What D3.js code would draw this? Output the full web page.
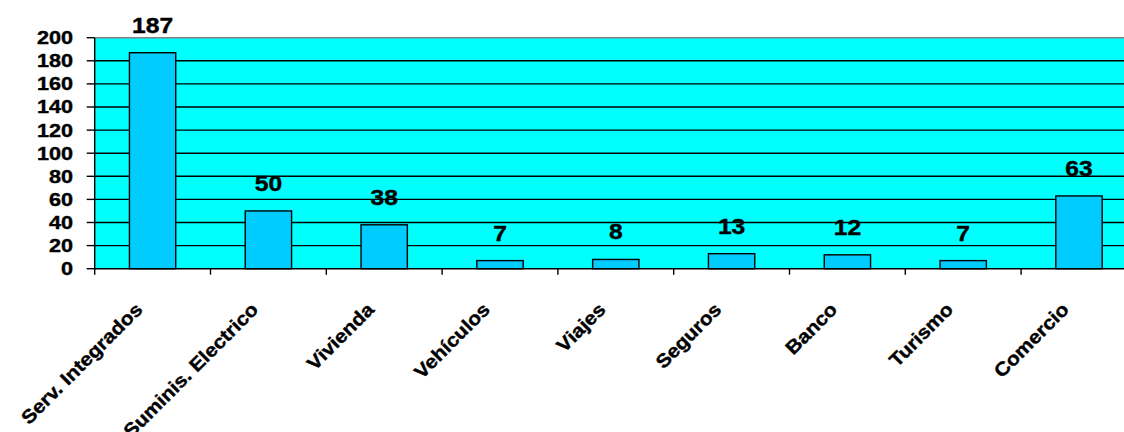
<!DOCTYPE html>
<html>
<head>
<meta charset="utf-8">
<script src="https://cdn.jsdelivr.net/npm/d3@7"></script>
<style>
  html, body { margin: 0; padding: 0; background: #fff; overflow: hidden; }
  svg { display: block; }
  text { font-family: "Liberation Sans", Arial, sans-serif; font-weight: bold; fill: #000; stroke: #000; stroke-width: 0.4px; }
</style>
</head>
<body>
<svg id="chart" width="1124" height="432"></svg>
<script>
// Complaints by sector
const categories = ["Serv. Integrados", "Suminis. Electrico", "Vivienda", "Vehículos", "Viajes", "Seguros", "Banco", "Turismo", "Comercio"];
const values = [187, 50, 38, 7, 8, 13, 12, 7, 63];
const yTicks = [0, 20, 40, 60, 80, 100, 120, 140, 160, 180, 200];

const svg = d3.select("#chart");
const plotLeft = 94.7, bandW = 115.8;
const plotRight = plotLeft + bandW * categories.length;
const plotTop = 37.7, plotBottom = 268.7;

const x = d3.scaleBand().domain(categories).range([plotLeft, plotRight]).padding(0);
const y = d3.scaleLinear().domain([0, 200]).range([plotBottom, plotTop]);

// plot area
svg.append("rect")
  .attr("x", plotLeft).attr("y", plotTop)
  .attr("width", plotRight - plotLeft).attr("height", plotBottom - plotTop)
  .attr("fill", "#00FFFF");

// horizontal gridlines
svg.append("g").selectAll("line")
  .data(yTicks.filter(t => t > 0))
  .join("line")
  .attr("x1", plotLeft).attr("x2", plotRight)
  .attr("y1", d => y(d)).attr("y2", d => y(d))
  .attr("stroke", d => d === 200 ? "#808080" : "#000")
  .attr("stroke-width", 1.4);

// bars
const barW = x.bandwidth() * 0.4;
svg.append("g").selectAll("rect")
  .data(values)
  .join("rect")
  .attr("x", (d, i) => x(categories[i]) + (x.bandwidth() - barW) / 2)
  .attr("y", d => y(d))
  .attr("width", barW)
  .attr("height", d => y(0) - y(d))
  .attr("fill", "#00CCFF")
  .attr("stroke", "#000")
  .attr("stroke-width", 1.4);

// value labels
svg.append("g").selectAll("text")
  .data(values)
  .join("text")
  .attr("transform", (d, i) => `translate(${x(categories[i]) + x.bandwidth() / 2},${y(d) - 20}) scale(1.12,1)`)
  .attr("text-anchor", "middle")
  .attr("font-size", 22)
  .text(d => d);

// y axis
const yAxis = svg.append("g");
yAxis.append("line")
  .attr("x1", plotLeft).attr("x2", plotLeft)
  .attr("y1", plotTop).attr("y2", plotBottom)
  .attr("stroke", "#000").attr("stroke-width", 1.4);
yAxis.selectAll("line.tick")
  .data(yTicks)
  .join("line").attr("class", "tick")
  .attr("x1", plotLeft - 8).attr("x2", plotLeft)
  .attr("y1", d => y(d)).attr("y2", d => y(d))
  .attr("stroke", "#000").attr("stroke-width", 1.4);
yAxis.selectAll("text")
  .data(yTicks)
  .join("text")
  .attr("transform", d => `translate(73,${y(d)}) scale(1.2,1)`)
  .attr("text-anchor", "end")
  .attr("dy", "0.36em")
  .attr("font-size", 18)
  .text(d => d);

// x axis
const xAxis = svg.append("g");
xAxis.append("line")
  .attr("x1", plotLeft).attr("x2", plotRight)
  .attr("y1", plotBottom).attr("y2", plotBottom)
  .attr("stroke", "#000").attr("stroke-width", 1.4);
xAxis.selectAll("line.tick")
  .data(d3.range(categories.length + 1))
  .join("line").attr("class", "tick")
  .attr("x1", i => plotLeft + i * x.step()).attr("x2", i => plotLeft + i * x.step())
  .attr("y1", plotBottom).attr("y2", plotBottom + 6)
  .attr("stroke", "#000").attr("stroke-width", 1.4);
xAxis.selectAll("text")
  .data(categories)
  .join("text")
  .attr("transform", d => `translate(${x(d) + x.bandwidth() / 2 - 9},${plotBottom + 42}) rotate(-45) scale(1.1,1)`)
  .attr("text-anchor", "end")
  .attr("font-size", 19)
  .text(d => d);
</script>
</body>
</html>
